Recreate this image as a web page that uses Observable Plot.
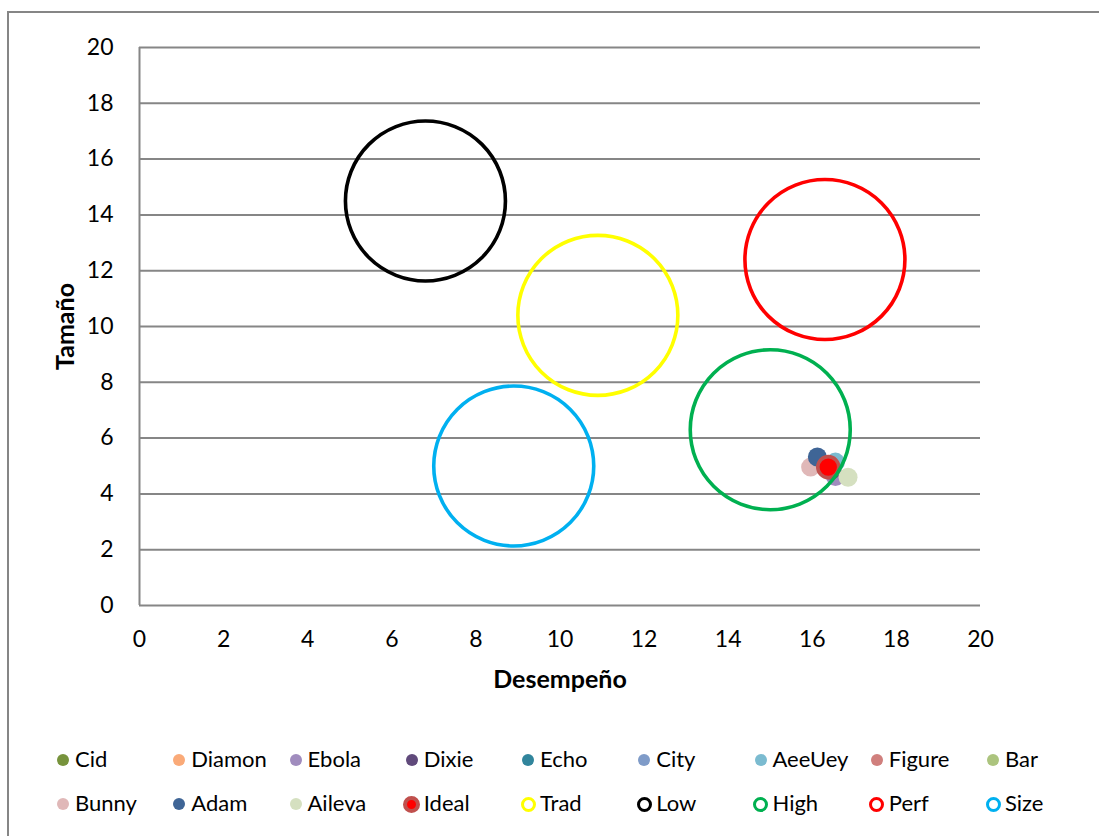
<!DOCTYPE html>
<html>
<head>
<meta charset="utf-8">
<script src="https://cdn.jsdelivr.net/npm/d3@7"></script>
<script src="https://cdn.jsdelivr.net/npm/@observablehq/plot@0.6"></script>
<style>
  html, body { margin: 0; padding: 0; background: #fff; overflow: hidden; }
  #frame { position: absolute; left: 7px; top: 11px; width: 1200px; height: 900px; border: 2px solid #868686; }
  #chart { position: absolute; left: 0; top: 0; }
  #legend { position: absolute; left: 0; top: 0; width: 1099px; height: 836px; font-family: Lato, sans-serif; font-size: 22px; color: #000; }
  .item { position: absolute; white-space: nowrap; line-height: 1; }
  .mk { position: absolute; border-radius: 50%; box-sizing: border-box; }
</style>
</head>
<body>
<div id="frame"></div>
<div id="chart"></div>
<div id="legend"></div>
<script>
// Small markers (series in drawing order)
const pointNames = ["Cid","Diamon","Ebola","Dixie","Echo","City","AeeUey","Figure","Bar","Bunny","Adam","Aileva","Ideal"];
const pointX     = [16.40, 16.35, 16.55, 16.45, 16.42, 16.45, 16.55, 16.38, 16.45, 15.96, 16.12, 16.85, 16.38];
const pointY     = [4.95,  4.90,  4.62,  4.85,  5.00,  5.00,  5.14,  4.92,  4.90,  4.96,  5.32,  4.60,  4.96];
const pointColors = ["#77933C","#FAAA78","#A08CBE","#604A7B","#31859C","#7F9BC8","#7BBBD0","#D07F7D","#ACC47E","#E0B8B8","#3F6596","#D5E0C0","#FF0000"];

// Big ring bubbles
const bubbleNames = ["Trad","Low","High","Perf","Size"];
const bubbleX     = [10.9, 6.8, 15.0, 16.3, 8.9];
const bubbleY     = [10.4, 14.5, 6.3, 12.4, 5.0];
const bubbleColors = ["#FFFF00","#000000","#00B050","#FF0000","#00B0F0"];

const xTicks = [0,2,4,6,8,10,12,14,16,18,20];
const yTicks = [0,2,4,6,8,10,12,14,16,18,20];

const points = pointNames.map((n, i) => ({name: n, x: pointX[i], y: pointY[i], color: pointColors[i]}));
const bubbles = bubbleNames.map((n, i) => ({name: n, x: bubbleX[i], y: bubbleY[i], color: bubbleColors[i]}));

const grid = "#868686";
const chart = Plot.plot({
  width: 1099,
  height: 700,
  marginLeft: 139,
  marginRight: 119,
  marginTop: 47,
  marginBottom: 95,
  x: {domain: [0, 20]},
  y: {domain: [0, 20]},
  color: {type: "identity"},
  style: {fontFamily: "Lato, sans-serif", fontSize: "23px", color: "#000", background: "transparent", overflow: "visible"},
  marks: [
    Plot.ruleY(yTicks, {stroke: grid, strokeWidth: 2}),
    Plot.ruleX([0], {stroke: grid, strokeWidth: 2}),
    Plot.axisX({ticks: xTicks, tickSize: 0, tickPadding: 25, label: null, fontSize: 23, tickFormat: d => String(d)}),
    Plot.axisY({ticks: yTicks, tickSize: 0, tickPadding: 26, label: null, fontSize: 23, tickFormat: d => String(d)}),
    Plot.text(["Desempeño"], {text: d => d, frameAnchor: "bottom", textAnchor: "middle", dy: 82, fontWeight: "bold", fontSize: 25}),
    Plot.text(["Tamaño"], {text: d => d, frameAnchor: "left", textAnchor: "middle", dx: -74, rotate: -90, fontWeight: "bold", fontSize: 25}),
    Plot.dot(points.filter(d => d.name !== "Ideal"), {x: "x", y: "y", r: 9.5, fill: "color", stroke: "none"}),
    Plot.dot(points.filter(d => d.name === "Ideal"), {x: "x", y: "y", r: 10.5, fill: "color", stroke: "#C0504D", strokeWidth: 3.6}),
    Plot.dot(bubbles, {x: "x", y: "y", r: 80, stroke: "color", strokeWidth: 3.6, fill: "none"})
  ]
});
document.getElementById("chart").appendChild(chart);

// Legend
const legend = document.getElementById("legend");
const legendItems = [
  ...points.map(d => ({name: d.name, color: d.color, kind: d.name === "Ideal" ? "ideal" : "dot"})),
  ...bubbles.map(d => ({name: d.name, color: d.color, kind: "ring"}))
];
legendItems.forEach((d, i) => {
  const col = i % 9, row = Math.floor(i / 9);
  const cx = 63 + col * 116.25, cy = 760 + row * 44;
  const mk = document.createElement("div");
  mk.className = "mk";
  let size;
  if (d.kind === "dot") { size = 12; mk.style.background = d.color; }
  else if (d.kind === "ring") { size = 15; mk.style.border = "3.5px solid " + d.color; mk.style.background = "#fff"; }
  else { size = 17; mk.style.background = d.color; mk.style.border = "4px solid #C0504D"; }
  mk.style.width = size + "px"; mk.style.height = size + "px";
  mk.style.left = (cx - size / 2) + "px"; mk.style.top = (cy - size / 2) + "px";
  legend.appendChild(mk);
  const t = document.createElement("div");
  t.className = "item";
  t.textContent = d.name;
  t.style.left = (cx + 12) + "px";
  t.style.top = (cy - 12) + "px";
  legend.appendChild(t);
});
</script>
</body>
</html>
